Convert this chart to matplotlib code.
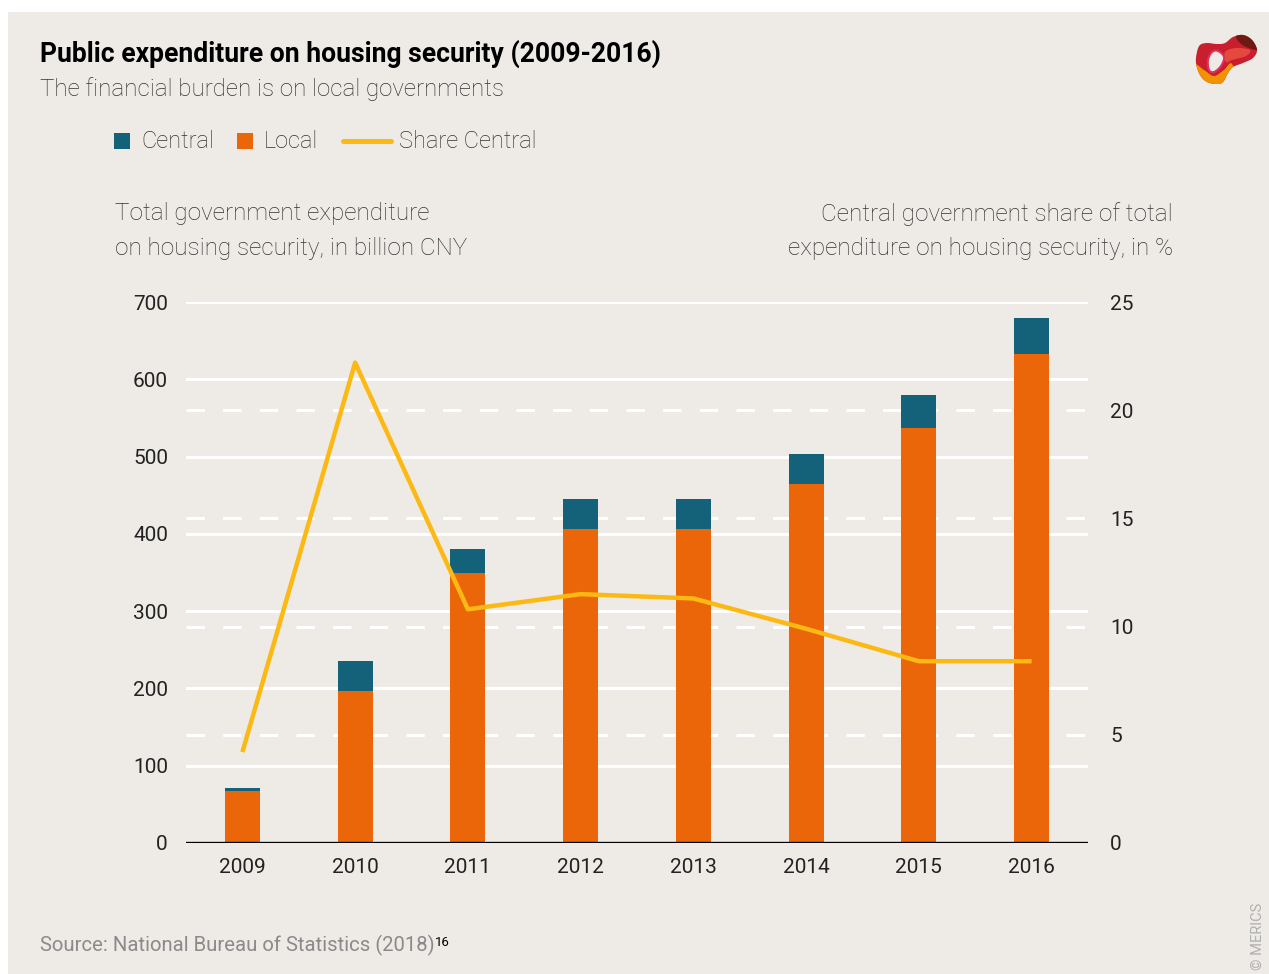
import numpy as np
import matplotlib.pyplot as plt
from matplotlib.patches import Rectangle, PathPatch
from matplotlib.lines import Line2D
from matplotlib.path import Path
import matplotlib.transforms as mtransforms

plt.rcParams['font.family'] = ['Roboto', 'DejaVu Sans']

# Data ########################################################################
years = ['2009', '2010', '2011', '2012', '2013', '2014', '2015', '2016']
local = [67, 197, 349, 406, 406, 464, 537, 633]          # billion CNY
central = [4, 39, 31, 39, 39, 39, 43, 46]                # billion CNY
share_central = [4.2, 22.2, 10.8, 11.5, 11.3, 9.9, 8.4, 8.4]   # %

left_ticks = [0, 100, 200, 300, 400, 500, 600, 700]
right_ticks = [0, 5, 10, 15, 20, 25]

# Styling #####################################################################
BG = '#EEEAE6'
C_CENTRAL = '#13627A'
C_LOCAL = '#EB6609'
C_SHARE = '#FDB913'
TXT = '#222222'

W, H = 1269, 974
fig = plt.figure(figsize=(W / 100, H / 100), dpi=100)
fig.patch.set_facecolor('white')

def fx(px):
    return px / W

def fy(py):
    return 1 - py / H

# beige panel
fig.add_artist(Rectangle((fx(8), 0), 1 - fx(8), fy(12), transform=fig.transFigure,
                         facecolor=BG, edgecolor='none', zorder=0))

# Axes ########################################################################
ax = fig.add_axes([fx(186), fy(843), fx(1088) - fx(186), fy(302) - fy(843)])
ax2 = ax.twinx()
ax.set_zorder(1)
ax2.set_zorder(2)
for a in (ax, ax2):
    a.patch.set_visible(False)
    for s in a.spines.values():
        s.set_visible(False)

x = np.arange(len(years))
bar_w = 0.31
ax.bar(x, local, bar_w, color=C_LOCAL, zorder=3)
ax.bar(x, central, bar_w, bottom=local, color=C_CENTRAL, zorder=3)

ax.set_xlim(-0.5, len(years) - 0.5)
ax.set_ylim(0, 700)
ax2.set_ylim(0, 25)

# solid gridlines for the left scale, dashed ones for the right scale (both behind bars)
for v in left_ticks[1:]:
    ax.axhline(v, color='white', lw=2.2, zorder=1)
trans_r = mtransforms.blended_transform_factory(ax.transAxes, ax2.transData)
for v in right_ticks[1:-1]:
    ax.plot([0, 1], [v, v], transform=trans_r, color='white', lw=2.2,
            dashes=(6, 6), zorder=1)
ax.axhline(0, color='black', lw=2.4, zorder=4)

ax2.plot(x, share_central, color=C_SHARE, lw=3.2, solid_joinstyle='round',
         solid_capstyle='butt', zorder=5)

ax.set_xticks(x, years)
ax.set_yticks(left_ticks)
ax2.set_yticks(right_ticks)
ax.tick_params(axis='x', length=0, pad=11, labelsize=15, labelcolor=TXT)
ax.tick_params(axis='y', length=0, pad=13, labelsize=15, labelcolor=TXT)
ax2.tick_params(axis='y', length=0, pad=16, labelsize=15, labelcolor=TXT)

# Texts #######################################################################
fig.text(fx(40), fy(54), 'Public expenditure on housing security (2009-2016)',
         fontsize=19.1, fontweight='bold', color='black', va='center', ha='left')
fig.text(fx(40), fy(89), 'The financial burden is on local governments',
         fontsize=17.4, fontweight='light', color='#333333', va='center', ha='left')

fig.text(fx(115), fy(231), 'Total government expenditure\non housing security, in billion CNY',
         fontsize=17.5, fontweight='light', color='#333333', va='center', ha='left',
         linespacing=1.62)
fig.text(fx(1173), fy(231), 'Central government share of total\nexpenditure on housing security, in %',
         fontsize=17.5, fontweight='light', color='#333333', va='center', ha='right',
         linespacing=1.62, multialignment='right')

# legend
ly = fy(141)
fig.add_artist(Rectangle((fx(114), ly - 8 / H), 16 / W, 16 / H, transform=fig.transFigure,
                         facecolor=C_CENTRAL, edgecolor='none'))
fig.text(fx(141), ly, 'Central', fontsize=17, fontweight='light', color='#333333', va='center')
fig.add_artist(Rectangle((fx(237), ly - 8 / H), 16 / W, 16 / H, transform=fig.transFigure,
                         facecolor=C_LOCAL, edgecolor='none'))
fig.text(fx(264), ly, 'Local', fontsize=17, fontweight='light', color='#333333', va='center')
fig.add_artist(Line2D([fx(343), fx(391)], [ly, ly], transform=fig.transFigure,
                      color=C_SHARE, lw=3.6, solid_capstyle='round'))
fig.text(fx(399), ly, 'Share Central', fontsize=17, fontweight='light', color='#333333',
         va='center')

# source line with superscript note number
src = fig.text(fx(40), fy(945), 'Source: National Bureau of Statistics (2018)',
               fontsize=14.6, fontweight='normal', color='#8A8A8A', va='center', ha='left')
ax.annotate('16', xy=(1, 0.95), xycoords=src, fontsize=9.5, color='black',
            va='top', ha='left', annotation_clip=False)

fig.text(fx(1258), fy(936), '© MERICS', rotation=90, fontsize=10.5, fontweight='normal',
         color='#B0B0B0', va='center', ha='center')

# Logo ########################################################################
def smooth_closed(pts, n=30):
    # periodic Catmull-Rom through the given outline points
    pts = np.asarray(pts, float)
    out = []
    m = len(pts)
    for i in range(m):
        p0, p1, p2, p3 = pts[i - 1], pts[i], pts[(i + 1) % m], pts[(i + 2) % m]
        t = np.linspace(0, 1, n, endpoint=False)[:, None]
        seg = 0.5 * ((2 * p1) + (-p0 + p2) * t + (2 * p0 - 5 * p1 + 4 * p2 - p3) * t ** 2
                     + (-p0 + 3 * p1 - 3 * p2 + p3) * t ** 3)
        out.append(seg)
    out = np.vstack(out)
    return np.column_stack([fx(out[:, 0]), fy(out[:, 1])])

outer = smooth_closed([(1197, 52), (1200, 45), (1207, 43), (1217, 44), (1225, 43),
                       (1233, 37), (1243, 35), (1252, 40), (1257, 50), (1253, 58),
                       (1243, 63), (1233, 67), (1228, 73), (1223, 82), (1217, 84),
                       (1207, 82), (1200, 75), (1196, 63)])
hole = smooth_closed([(1208, 60), (1212, 52), (1218, 51), (1224, 57), (1221, 66),
                      (1214, 72), (1209, 70)])
lower = smooth_closed([(1192, 64), (1204, 70), (1214, 76), (1224, 70), (1232, 64),
                       (1238, 90), (1192, 92)])
upper = smooth_closed([(1236, 36), (1248, 30), (1262, 40), (1260, 50), (1244, 46)])
band = smooth_closed([(1225, 52), (1236, 48), (1250, 50), (1246, 56), (1232, 60),
                      (1226, 62)])

outer_patch = PathPatch(Path(outer, closed=True), facecolor='#C81E2E', edgecolor='none',
                        transform=fig.transFigure)
fig.add_artist(outer_patch)
for poly, col in ((lower, '#F39200'), (upper, '#6E1A10'), (band, '#E5483C')):
    p = PathPatch(Path(poly, closed=True), facecolor=col, edgecolor='none',
                  transform=fig.transFigure)
    p.set_clip_path(outer_patch)
    fig.add_artist(p)
fig.add_artist(PathPatch(Path(hole, closed=True), facecolor=BG, edgecolor='#E0305A',
                         lw=1.5, transform=fig.transFigure))

fig.savefig('out.png', dpi=100, facecolor=fig.get_facecolor())
